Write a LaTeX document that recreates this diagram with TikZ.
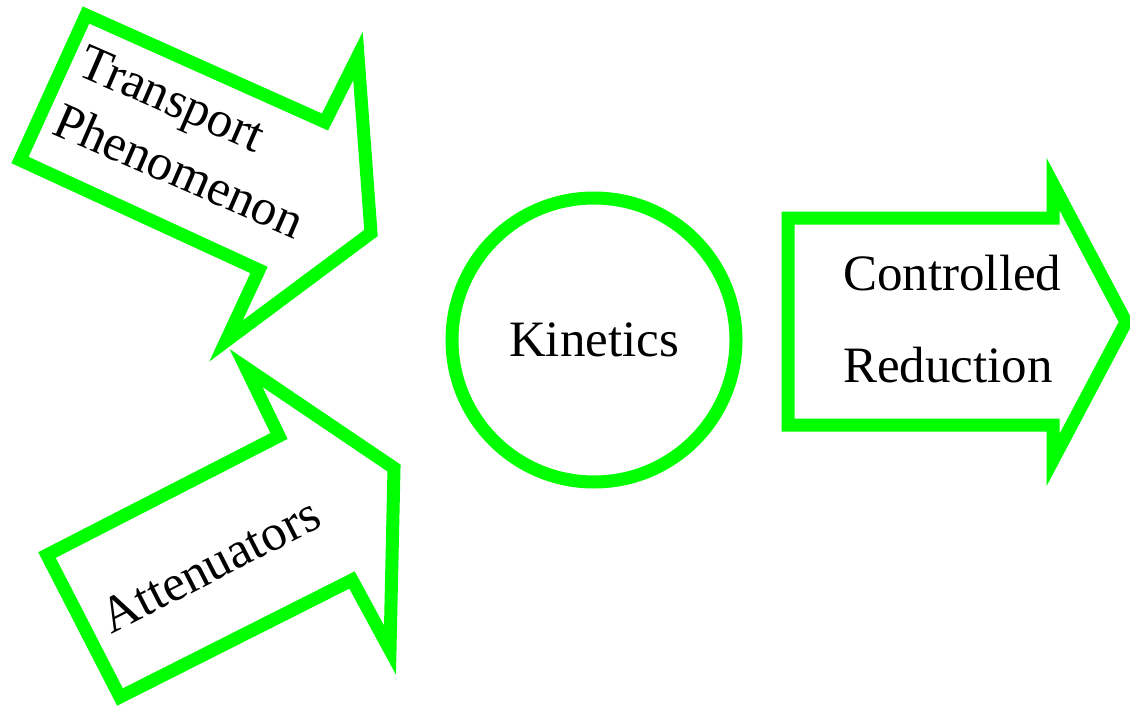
\documentclass[tikz,border=0pt]{standalone}
\usepackage{fontspec}
\setmainfont{Liberation Serif}
\usepackage{tikz}
\usetikzlibrary{calc,shapes}
\definecolor{brightgreen}{RGB}{0,255,0}
\tikzset{arrowshape/.style={draw=brightgreen,line width=13pt,line join=miter},
  lbl/.style={font=\fontsize{51}{64}\selectfont,inner sep=0pt}}

\begin{document}
\begin{tikzpicture}[x=1pt,y=-1pt]
\useasboundingbox (0,0) rectangle (1130,706);
% incoming arrows
\draw[arrowshape] (86,15) -- (325,122) -- (358,56) -- (371,233) -- (226,341)
  -- (259,270) -- (20,160) -- cycle;
\draw[arrowshape] (246,368) -- (394,468) -- (390,650) -- (352,580) -- (120,697)
  -- (47,555) -- (279,436) -- cycle;
\node[lbl,rotate=-23.5,anchor=base west,align=left] (transport) at (50,133)
  {Transport\\Phenomenon};
\node[lbl,rotate=27,anchor=base] (atten) at (218,580) {Attenuators};
% centre
\node[lbl,circle,draw=brightgreen,line width=13pt,minimum size=284pt] (kin) at (594,340)
  {Kinetics};
% outgoing arrow
\draw[arrowshape] (788,218) -- (1053,218) -- (1053,184) -- (1126,322) -- (1053,460)
  -- (1053,425) -- (788,425) -- cycle;
\node[lbl,font=\fontsize{51}{92}\selectfont,anchor=base west,align=left] (reduct) at (843,382)
  {Controlled\\Reduction};
\end{tikzpicture}
\end{document}
